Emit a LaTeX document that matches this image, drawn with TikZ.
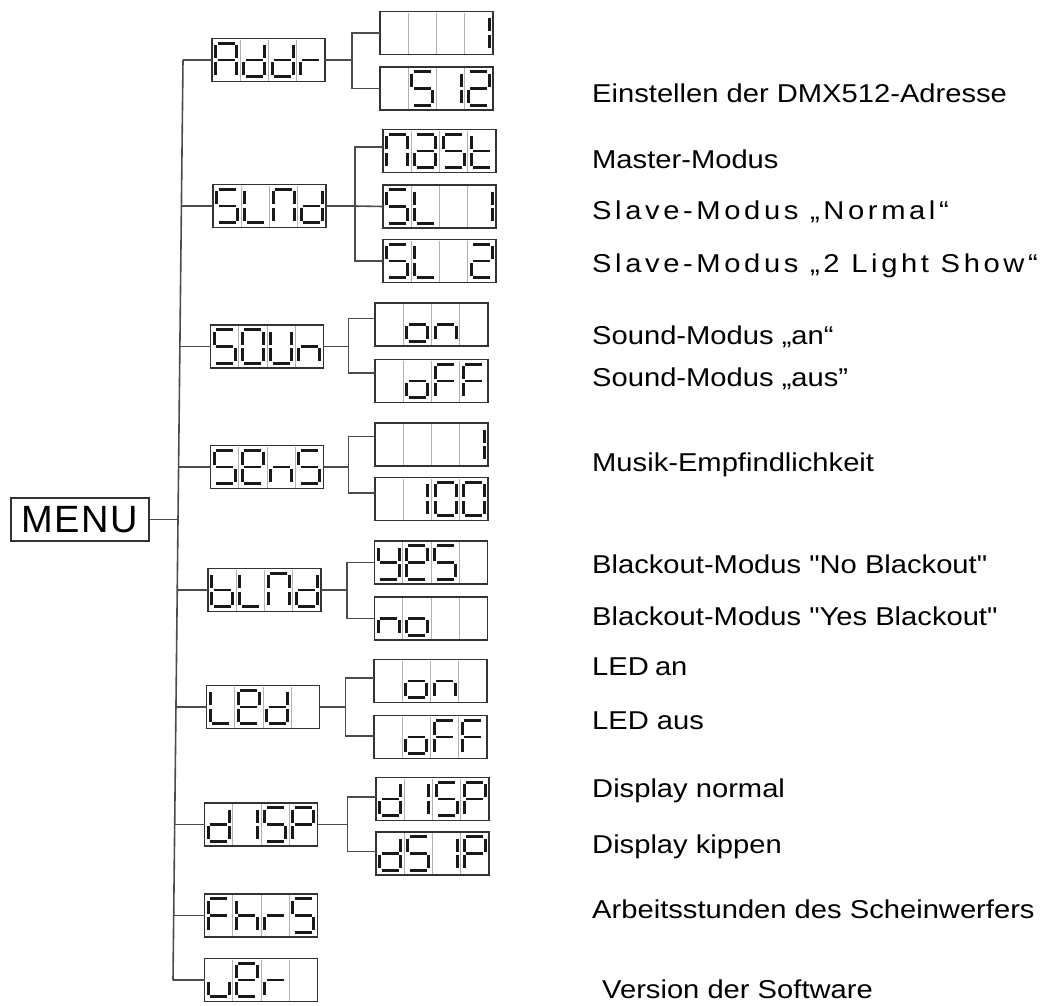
\documentclass[tikz,border=0pt]{standalone}
\usepackage{fontspec}
\setmainfont{Liberation Sans}
\newfontfamily\labfont[FakeStretch=1.13]{Liberation Sans}
\newfontfamily\labspfont[FakeStretch=1.13,LetterSpace=14]{Liberation Sans}
\newfontfamily\menufont[LetterSpace=4]{Liberation Sans}

% seven-segment glyph definitions
\def\gA{a,b,c,e,f,g}
\def\gd{b,c,d,e,g}
\def\gr{e,g}
\def\gS{a,f,g,c,d}
\def\gL{d,e,f}
\def\gM{a,b,c,e,f}
\def\ga{a,b,c,d,e,g}
\def\gt{d,e,f,g}
\def\gone{b,c}
\def\gtwo{a,b,g,e,d}
\def\gO{a,b,c,d,e,f}
\def\gU{b,c,d,e,f}
\def\gn{c,e,g}
\def\go{c,d,e,g}
\def\gF{a,e,f,g}
\def\ge{a,b,d,e,f,g}
\def\gb{c,d,e,f,g}
\def\gy{b,c,d,f,g}
\def\gP{a,b,e,f,g}
\def\gh{c,e,f,g}
\def\gv{c,d,e}
\def\gX{z}

\tikzset{
  lcdbox/.style={draw=black!80, line width=1.7pt, minimum width=113pt, minimum height=43pt, inner sep=0pt, outer sep=0pt},
  celldiv/.style={draw=black!30, line width=0.9pt},
  segline/.style={draw=black!90, line width=2.9pt},
  conn/.style={draw=black!70, line width=1.6pt},
  lab/.style={anchor=base west, inner sep=0pt, font=\labfont\fontsize{25.8}{30}\selectfont},
  labsp/.style={anchor=base west, inner sep=0pt, font=\labspfont\fontsize{25.8}{30}\selectfont},
}

\def\segdrawa{\draw[segline] (5.6,4.6) -- (22.6,4.6);}
\def\segdrawb{\draw[segline] (24.6,6.6) -- (24.6,19.6);}
\def\segdrawc{\draw[segline] (24.6,23.4) -- (24.6,36.4);}
\def\segdrawd{\draw[segline] (5.6,38.4) -- (22.6,38.4);}
\def\segdrawe{\draw[segline] (3.6,23.4) -- (3.6,36.4);}
\def\segdrawf{\draw[segline] (3.6,6.6) -- (3.6,19.6);}
\def\segdrawg{\draw[segline] (5.6,21.5) -- (22.6,21.5);}
\def\segdrawz{}

\newcommand\lcdglyph[2]{\begin{scope}[shift={(#1,0)}]\foreach \s in #2 {\csname segdraw\s\endcsname}\end{scope}}
\newcommand\lcd[7]{%
  \node[lcdbox] (#1) at (#2,#3) {};
  \begin{scope}[shift={(#2-56.5,#3-21.5)}]
    \foreach \k in {1,2,3} \draw[celldiv] (\k*28.25,1) -- (\k*28.25,42);
    \lcdglyph{0}{#4}\lcdglyph{28.25}{#5}\lcdglyph{56.5}{#6}\lcdglyph{84.75}{#7}
  \end{scope}}

\begin{document}
\begin{tikzpicture}[x=1pt,y=-1pt]
\fill[white] (0,0) rectangle (1040,1005);
\useasboundingbox (0,0) rectangle (1040,1005);

% MENU
\node[draw=black!80, line width=1.6pt, minimum width=138pt, minimum height=43pt, inner sep=0pt,
      font=\menufont\fontsize{38}{40}\selectfont] (menu) at (80,519.5) {MENU};

% main displays
\lcd{addr}{268.5}{60}{\gA}{\gd}{\gd}{\gr}
\lcd{slmd}{269.5}{206}{\gS}{\gL}{\gM}{\gd}
\lcd{soun}{267}{346.5}{\gS}{\gO}{\gU}{\gn}
\lcd{sens}{267}{467}{\gS}{\ge}{\gn}{\gS}
\lcd{blnd}{264.5}{590}{\gb}{\gL}{\gM}{\gd}
\lcd{led}{263}{707}{\gL}{\ge}{\gd}{\gX}
\lcd{disp}{261}{824.5}{\gd}{\gone}{\gS}{\gP}
\lcd{fhrs}{261}{915.5}{\gF}{\gh}{\gr}{\gS}
\lcd{ver}{261}{980}{\gv}{\ge}{\gr}{\gX}

% sub displays
\lcd{addrone}{436.5}{33}{\gX}{\gX}{\gX}{\gone}
\lcd{addrmax}{436.5}{88.5}{\gX}{\gS}{\gone}{\gtwo}
\lcd{mast}{439.5}{151}{\gM}{\ga}{\gS}{\gt}
\lcd{slone}{439.5}{206.5}{\gS}{\gL}{\gX}{\gone}
\lcd{sltwo}{439.5}{261}{\gS}{\gL}{\gX}{\gtwo}
\lcd{son}{431.5}{324.5}{\gX}{\go}{\gn}{\gX}
\lcd{soff}{431.5}{381}{\gX}{\go}{\gF}{\gF}
\lcd{sone}{431.5}{444.5}{\gX}{\gX}{\gX}{\gone}
\lcd{shund}{431.5}{499}{\gX}{\gone}{\gO}{\gO}
\lcd{byes}{431}{562.5}{\gy}{\ge}{\gS}{\gX}
\lcd{bno}{431}{618.5}{\gn}{\go}{\gX}{\gX}
\lcd{lon}{430.5}{681}{\gX}{\go}{\gn}{\gX}
\lcd{loff}{430.5}{737}{\gX}{\go}{\gF}{\gF}
\lcd{dnorm}{432.5}{799}{\gd}{\gone}{\gS}{\gP}
\lcd{dflip}{432.5}{853.5}{\gd}{\gS}{\gone}{\gP}

% trunk coordinates
\coordinate (t1) at (183,60);
\coordinate (t2) at (181.4,206);
\coordinate (t3) at (179.9,346.5);
\coordinate (t4) at (178.6,467);
\coordinate (tm) at (178,519.5);
\coordinate (t5) at (177.2,590);
\coordinate (t6) at (175.9,707);
\coordinate (t7) at (174.7,824.5);
\coordinate (t8) at (173.7,915.5);
\coordinate (t9) at (173,980);

\draw[conn] (t1) -- (t9);
\draw[conn] (menu.east) -- (tm);
\draw[conn] (t1) -- (addr.west);
\draw[conn] (t2) -- (slmd.west);
\draw[conn] (t3) -- (soun.west);
\draw[conn] (t4) -- (sens.west);
\draw[conn] (t5) -- (blnd.west);
\draw[conn] (t6) -- (led.west);
\draw[conn] (t7) -- (disp.west);
\draw[conn] (t8) -- (fhrs.west);
\draw[conn] (t9) -- (ver.west);

% branches
\draw[conn] (addr.east) -- ++(27,0) coordinate (ba);
\draw[conn] (addrone.west) -| (ba) |- (addrmax.west);
\draw[conn] (slmd.east) -- ++(29,0) coordinate (bs);
\draw[conn] ([yshift=4pt]mast.west) -| (bs) |- (sltwo.west);
\draw[conn] (bs) -- (slone.west);
\draw[conn] (soun.east) -- ++(25,0) coordinate (bo);
\draw[conn] ([yshift=6pt]son.west) -| (bo) |- ([yshift=8pt]soff.west);
\draw[conn] (sens.east) -- ++(25,0) coordinate (be);
\draw[conn] ([yshift=8pt]sone.west) -| (be) |- ([yshift=6pt]shund.west);
\draw[conn] (blnd.east) -- ++(26,0) coordinate (bb);
\draw[conn] (byes.west) -| (bb) |- (bno.west);
\draw[conn] (led.east) -- ++(26,0) coordinate (bl);
\draw[conn] ([yshift=3pt]lon.west) -| (bl) |- ([yshift=1pt]loff.west);
\draw[conn] (disp.east) -- ++(30,0) coordinate (bd);
\draw[conn] ([yshift=2pt]dnorm.west) -| (bd) |- ([yshift=2pt]dflip.west);

% labels
\node[lab] (l1) at (592,102) {Einstellen der DMX512-Adresse};
\node[lab] (l2) at (592,168) {Master-Modus};
\node[labsp] (l3) at (592,219) {Slave-Modus „Normal“};
\node[labsp] (l4) at (592,272) {Slave-Modus „2 Light Show“};
\node[lab] (l5) at (592,344) {Sound-Modus „an“};
\node[lab] (l6) at (592,386) {Sound-Modus „aus”};
\node[lab] (l7) at (592,471) {Musik-Empfindlichkeit};
\node[lab] (l8) at (592,573) {Blackout-Modus "No Blackout"};
\node[lab] (l9) at (592,625) {Blackout-Modus "Yes Blackout"};
\node[lab] (l10) at (592,675) {LED\kern-2pt\ an};
\node[lab] (l11) at (592,729) {LED aus};
\node[lab] (l12) at (592,797) {Display normal};
\node[lab] (l13) at (592,853) {Display kippen};
\node[lab] (l14) at (592,918) {Arbeitsstunden des Scheinwerfers};
\node[lab] (l15) at (602,998) {Version der Software};
\end{tikzpicture}
\end{document}
